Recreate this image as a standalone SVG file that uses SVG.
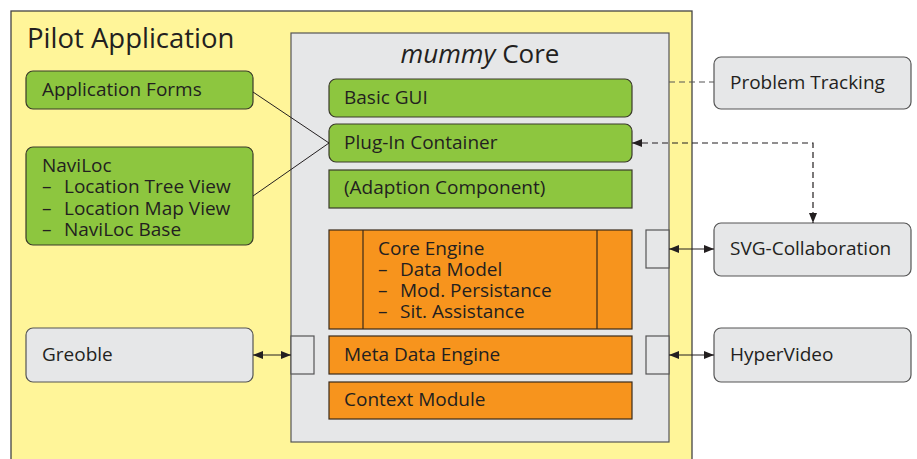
<svg xmlns="http://www.w3.org/2000/svg" width="917" height="459" viewBox="0 0 917 459">
<style>
text{font-family:"Open Sans","Liberation Sans",sans-serif;fill:#231F20;font-size:19px}
.green{fill:#8DC63F;stroke:#3a3a2a;stroke-width:1.2}
.orange{fill:#F7941D;stroke:#3a2a1a;stroke-width:1.2}
.gray{fill:#E6E7E8;stroke:#555;stroke-width:1.2}
.port{fill:#E6E7E8;stroke:#555;stroke-width:1.2}
.line{stroke:#231F20;stroke-width:1;fill:none}
.dash{stroke:#231F20;stroke-width:1.2;fill:none;stroke-dasharray:6 4}
</style>
<defs>
<marker id="ah" viewBox="0 0 10 10" refX="10" refY="5" markerWidth="10" markerHeight="10" markerUnits="userSpaceOnUse" orient="auto-start-reverse">
<path d="M0,1 L10,5 L0,9 z" fill="#231F20"/>
</marker>
</defs>
<g id="pilot-application">
<rect x="11" y="11" width="681" height="460" fill="#FFF599" stroke="#444" stroke-width="1.3"/>
<text x="27" y="48" style="font-size:27.5px">Pilot Application</text>
</g>
<g id="mummy-core">
<rect x="291" y="33" width="378" height="409" fill="#E6E7E8" stroke="#555" stroke-width="1.2"/>
<text x="480" y="63" text-anchor="middle" style="font-size:26px"><tspan font-style="italic">mummy</tspan> Core</text>
</g>
<g id="application-forms">
<rect class="green" x="26" y="71" width="227" height="38" rx="7"/>
<text x="42" y="96">Application Forms</text>
</g>
<g id="naviloc">
<rect class="green" x="26" y="147" width="227" height="98" rx="7"/>
<text x="42" y="172">NaviLoc</text>
<text x="42" y="193">–</text><text x="64" y="193">Location Tree View</text>
<text x="42" y="215">–</text><text x="64" y="215">Location Map View</text>
<text x="42" y="236">–</text><text x="64" y="236">NaviLoc Base</text>
</g>
<g id="greoble">
<rect class="gray" x="26" y="328" width="227" height="54" rx="7"/>
<text x="42" y="361">Greoble</text>
</g>
<g id="basic-gui">
<rect class="green" x="329" y="79" width="303" height="38" rx="7"/>
<text x="344" y="104">Basic GUI</text>
</g>
<g id="plug-in-container">
<rect class="green" x="329" y="124" width="303" height="38" rx="7"/>
<text x="344" y="149">Plug-In Container</text>
</g>
<g id="adaption-component">
<rect class="green" x="329" y="170" width="303" height="38"/>
<text x="344" y="194">(Adaption Component)</text>
</g>
<g id="core-engine">
<rect class="orange" x="329" y="230" width="303" height="99"/>
<line x1="363" y1="230" x2="363" y2="329" stroke="#3a2a1a" stroke-width="1.2"/>
<line x1="597" y1="230" x2="597" y2="329" stroke="#3a2a1a" stroke-width="1.2"/>
<text x="378" y="255">Core Engine</text>
<text x="378" y="276">–</text><text x="400" y="276">Data Model</text>
<text x="378" y="297">–</text><text x="400" y="297">Mod. Persistance</text>
<text x="378" y="318">–</text><text x="400" y="318">Sit. Assistance</text>
</g>
<g id="meta-data-engine">
<rect class="orange" x="329" y="336" width="303" height="38"/>
<text x="344" y="361">Meta Data Engine</text>
</g>
<g id="context-module">
<rect class="orange" x="329" y="382" width="303" height="37"/>
<text x="344" y="406">Context Module</text>
</g>
<g id="ports">
<rect class="port" x="291" y="336" width="23" height="38"/>
<rect class="port" x="646" y="230" width="23" height="38"/>
<rect class="port" x="646" y="336" width="23" height="38"/>
</g>
<g id="problem-tracking">
<rect class="gray" x="714" y="57" width="197" height="52" rx="7"/>
<text x="730" y="89">Problem Tracking</text>
</g>
<g id="svg-collaboration">
<rect class="gray" x="714" y="223" width="197" height="53" rx="7"/>
<text x="730" y="255">SVG-Collaboration</text>
</g>
<g id="hypervideo">
<rect class="gray" x="714" y="328" width="197" height="54" rx="7"/>
<text x="730" y="361">HyperVideo</text>
</g>
<g id="connectors">
<line class="line" x1="253" y1="92" x2="329" y2="143"/>
<line class="line" x1="253" y1="196" x2="329" y2="143"/>
<line class="dash" x1="669" y1="82" x2="714" y2="82" style="stroke:#555"/>
<path class="dash" d="M632,143 L813,143 L813,223" marker-start="url(#ah)" marker-end="url(#ah)"/>
<line class="line" x1="253" y1="355" x2="291" y2="355" marker-start="url(#ah)" marker-end="url(#ah)"/>
<line class="line" x1="669" y1="249" x2="714" y2="249" marker-start="url(#ah)" marker-end="url(#ah)"/>
<line class="line" x1="669" y1="355" x2="714" y2="355" marker-start="url(#ah)" marker-end="url(#ah)"/>
</g>
</svg>
